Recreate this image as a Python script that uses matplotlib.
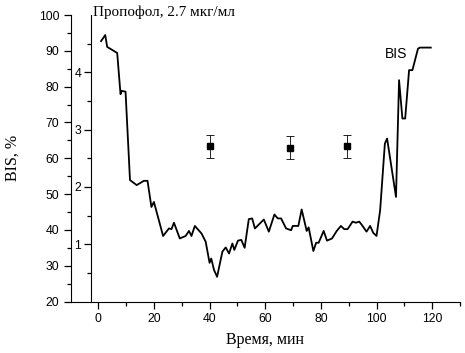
import matplotlib
matplotlib.use("Agg")
import matplotlib.pyplot as plt
from matplotlib.ticker import MultipleLocator, FixedLocator

# BIS over time (min, %)
t_bis = [1.0, 2.5, 3.2, 6.8, 8.0, 8.4, 9.8, 11.4, 13.8, 16.4, 17.7, 19.1, 20.0,
         23.3, 25.4, 26.3, 27.2, 29.3, 31.4, 32.6, 33.5, 34.7, 37.1, 38.6, 40.0,
         40.6, 41.6, 42.7, 44.6, 45.8, 47.0, 48.2, 48.9, 50.2, 51.4, 52.6, 54.1,
         55.3, 56.3, 59.5, 61.3, 63.3, 64.5, 65.7, 67.5, 69.3, 69.9, 71.9, 73.1,
         74.9, 75.6, 77.3, 78.3, 79.2, 81.0, 82.2, 84.0, 85.7, 87.2, 88.4, 89.6,
         91.4, 92.6, 93.8, 94.8, 96.4, 97.7, 98.8, 100.0, 101.3, 103.0, 103.8,
         107.0, 108.1, 109.3, 110.3, 111.7, 112.9, 114.9, 115.6, 119.5]
bis = [92.7, 94.4, 91.1, 89.4, 77.9, 78.8, 78.6, 53.9, 52.5, 53.7, 53.7, 46.4, 47.8,
       38.3, 40.4, 40.2, 42.0, 37.6, 38.3, 39.7, 38.3, 41.1, 39.0, 36.7, 30.8,
       32.0, 28.8, 26.9, 33.9, 35.1, 33.4, 36.2, 34.4, 37.0, 37.2, 35.0, 43.0,
       43.2, 40.4, 42.9, 39.5, 44.3, 43.2, 43.2, 40.4, 39.9, 41.1, 41.1, 45.7,
       39.7, 40.7, 34.1, 36.4, 36.4, 39.7, 37.0, 37.6, 39.7, 41.1, 40.2, 40.2,
       42.3, 42.0, 42.3, 41.3, 39.5, 41.1, 39.2, 38.3, 45.5, 64.1, 65.5,
       49.2, 81.8, 71.1, 71.1, 84.6, 84.6, 90.6, 90.9, 90.9]

# propofol concentration samples (min, mkg/ml)
t_conc = [40, 69, 89.5]
conc = [2.71, 2.68, 2.71]
conc_err = [0.2, 0.2, 0.2]

fig = plt.figure(figsize=(4.65, 3.53), dpi=100)
ax = fig.add_axes([71 / 465, 51.5 / 353, 389 / 465, 286.5 / 353])

ax.plot(t_bis, bis, color="black", lw=1.3)
ax.set_xlim(-9.8, 130)
ax.set_ylim(20, 100)

for s in ["top", "right"]:
    ax.spines[s].set_visible(False)
ax.xaxis.set_major_locator(MultipleLocator(20))
ax.xaxis.set_minor_locator(MultipleLocator(10))
ax.yaxis.set_major_locator(MultipleLocator(10))
ax.yaxis.set_minor_locator(MultipleLocator(5))
ax.tick_params(which="major", length=5, width=0.9, labelsize=8.8)
ax.tick_params(which="minor", length=3, width=0.9)
ax.set_xticks([0, 20, 40, 60, 80, 100, 120])
for lbl in ax.get_xticklabels() + ax.get_yticklabels():
    lbl.set_fontfamily("Liberation Sans")

ax.set_xlabel("Время, мин", family="Liberation Serif", fontsize=11.5, labelpad=5)
ax.set_ylabel("BIS, %", family="Liberation Serif", fontsize=11.5, labelpad=13)

# inner concentration axis
ax2 = ax.twinx()
ax2.errorbar(t_conc, conc, yerr=conc_err, fmt="s", color="black", ms=4.8,
             elinewidth=0.6, capsize=3, capthick=0.6)
ax2.set_ylim(0, 5)
for s in ["top", "right", "bottom"]:
    ax2.spines[s].set_visible(False)
ax2.spines["left"].set_visible(True)
ax2.spines["left"].set_position(("data", -2.7))
ax2.yaxis.tick_left()
ax2.yaxis.set_major_locator(FixedLocator([1, 2, 3, 4]))
ax2.yaxis.set_minor_locator(FixedLocator([0.5, 1.5, 2.5, 3.5, 4.5]))
ax2.tick_params(which="major", length=5, width=0.9, labelsize=8.8, pad=2)
ax2.tick_params(which="minor", length=3, width=0.9)
for lbl in ax2.get_yticklabels():
    lbl.set_fontfamily("Liberation Sans")

ax.text(-1.9, 99.6, "Пропофол, 2.7 мкг/мл", family="Liberation Serif", fontsize=10.9,
        va="baseline", ha="left")
ax.text(103.1, 87.9, "BIS", family="Liberation Sans", fontsize=10, va="baseline")

fig.savefig("out.png", dpi=100)
